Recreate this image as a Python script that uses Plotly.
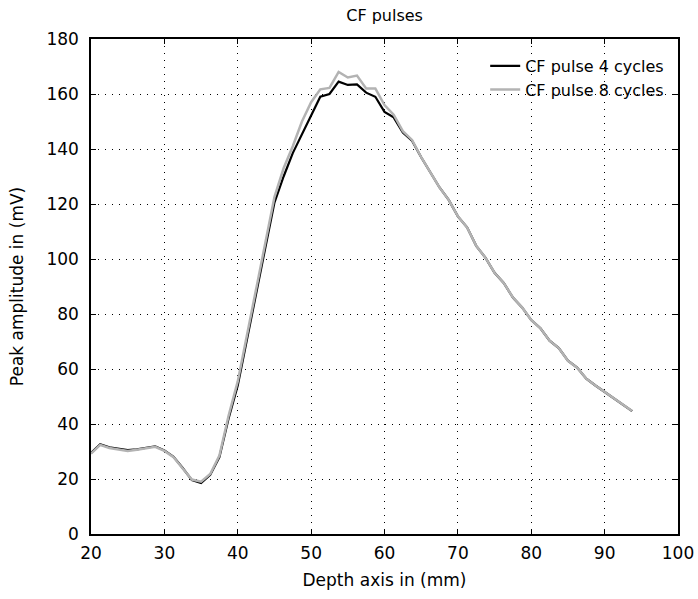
import plotly.graph_objects as go

depth_mm = [20 + 1.25 * i for i in range(60)]

pulse4_mV = [29.5, 32.6, 31.5, 31.0, 30.5, 30.8, 31.3, 31.9, 30.4, 28.1,
             24.0, 19.6, 18.5, 21.5, 28.0, 42.0, 54.0, 71.0, 88.0, 104.0,
             120.5, 130.0, 138.5, 145.5, 152.5, 159.0, 160.0, 164.5, 163.3, 163.5,
             160.5, 159.0, 153.5, 151.5, 146.0, 143.0, 137.0, 131.5, 126.0, 121.5,
             115.5, 111.5, 104.8, 100.5, 95.0, 91.3, 86.0, 82.4, 77.8, 74.8,
             70.3, 67.6, 63.0, 60.5, 56.5, 54.0, 51.7, 49.3, 47.0, 44.7]

pulse8_mV = [29.2, 32.4, 31.3, 30.7, 30.2, 30.6, 31.1, 31.7, 30.2, 27.9,
             23.8, 19.8, 19.0, 21.8, 28.5, 43.0, 55.5, 72.5, 89.5, 106.0,
             122.5, 133.0, 141.0, 150.0, 157.0, 161.7, 162.2, 168.0, 166.0, 166.7,
             162.0, 162.0, 156.0, 152.5, 146.5, 143.3, 137.0, 131.5, 126.0, 121.5,
             115.5, 111.5, 104.8, 100.5, 95.0, 91.3, 86.0, 82.4, 77.8, 74.8,
             70.3, 67.6, 63.0, 60.5, 56.5, 54.0, 51.7, 49.3, 47.0, 44.7]

series_names = ["CF pulse 4 cycles", "CF pulse 8 cycles"]
x_ticks = [20, 30, 40, 50, 60, 70, 80, 90, 100]
y_ticks = [0, 20, 40, 60, 80, 100, 120, 140, 160, 180]

FONT = "DejaVu Sans"

fig = go.Figure()
fig.add_trace(go.Scatter(x=depth_mm, y=pulse4_mV, mode="lines", name=series_names[0],
                         line=dict(color="black", width=2.2)))
fig.add_trace(go.Scatter(x=depth_mm, y=pulse8_mV, mode="lines", name=series_names[1],
                         line=dict(color="#b3b3b3", width=2.5)))

axis_common = dict(
    showgrid=True, gridcolor="black", gridwidth=1, griddash="1px,6px",
    zeroline=False, showline=True, linecolor="black", linewidth=1.5,
    mirror="allticks", ticks="inside", ticklen=5, tickcolor="black",
    tickfont=dict(family=FONT, size=17, color="black"),
    automargin=False,
)

fig.update_xaxes(range=[20, 100], tickvals=x_ticks, ticklabelstandoff=3,
                 title=dict(text="Depth axis in (mm)", font=dict(family=FONT, size=17, color="black"), standoff=12),
                 **axis_common)
fig.update_yaxes(range=[0, 180], tickvals=y_ticks, ticklabelstandoff=7,
                 title=dict(text="Peak amplitude in (mV)", font=dict(family=FONT, size=17, color="black"), standoff=18),
                 **axis_common)

fig.update_layout(
    width=698, height=599,
    margin=dict(l=91, r=20, t=39, b=65),
    paper_bgcolor="white", plot_bgcolor="white",
    title=dict(text="CF pulses", x=0.551, xanchor="center", y=0.983, yanchor="top",
               font=dict(family=FONT, size=16, color="black")),
    legend=dict(x=0.985, xanchor="right", y=0.98, yanchor="top",
                bgcolor="rgba(255,255,255,0)", borderwidth=0,
                font=dict(family=FONT, size=16, color="black"),
                tracegroupgap=0, itemwidth=30),
    showlegend=True,
)

fig.write_html("out.html")
